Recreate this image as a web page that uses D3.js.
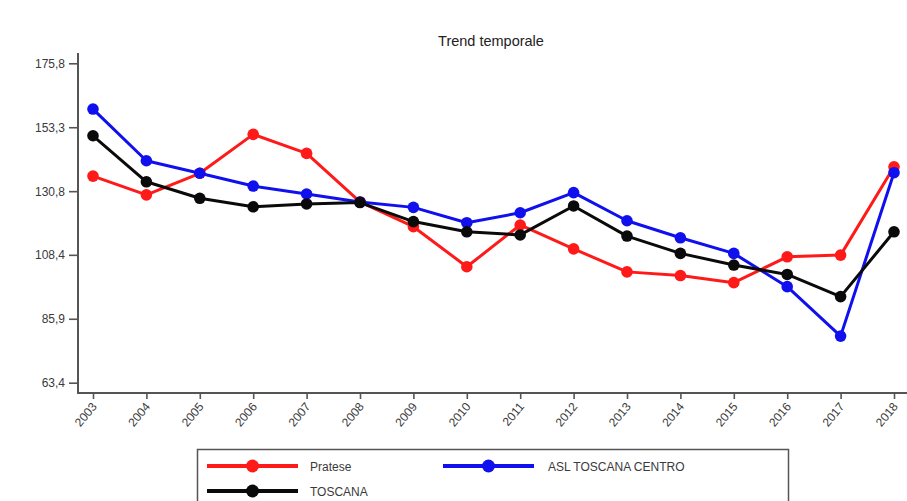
<!DOCTYPE html>
<html>
<head>
<meta charset="utf-8">
<script src="https://cdn.jsdelivr.net/npm/d3@7"></script>
<style>
  html, body { margin: 0; padding: 0; background: #fff; }
  svg { display: block; font-family: "Liberation Sans", Arial, sans-serif; }
</style>
</head>
<body>
<svg id="chart" width="907" height="501"></svg>
<script>
// ---- data ----
const years = [2003,2004,2005,2006,2007,2008,2009,2010,2011,2012,2013,2014,2015,2016,2017,2018];
const pratese = [136.1,129.5,137.1,150.8,144.1,127.0,118.3,104.2,118.9,110.5,102.4,101.1,98.6,107.7,108.3,139.4];
const aslToscanaCentro = [159.7,141.5,137.1,132.6,129.8,127.0,125.1,119.7,123.2,130.3,120.4,114.4,108.9,97.2,79.8,137.3];
const toscana = [150.3,134.1,128.3,125.3,126.3,126.8,120.1,116.5,115.4,125.6,115.0,108.9,104.8,101.5,93.7,116.5];
const yTickValues = [63.4,85.9,108.4,130.8,153.3,175.8];
const yTickLabels = ["63,4","85,9","108,4","130,8","153,3","175,8"];
const seriesNames = ["Pratese","ASL TOSCANA CENTRO","TOSCANA"];
const seriesColors = ["#ff1a1a","#1010ee","#0a0a0a"];
const title = "Trend temporale";

const series = [
  {name: seriesNames[0], color: seriesColors[0], values: pratese},
  {name: seriesNames[1], color: seriesColors[1], values: aslToscanaCentro},
  {name: seriesNames[2], color: seriesColors[2], values: toscana}
];

const svg = d3.select("#chart");
const axisColor = "#555";
const textColor = "#3a3a3a";

const plotLeft = 78, plotRight = 910, plotTop = 53, plotBottom = 393;

const x = d3.scaleLinear().domain([2003, 2018]).range([93, 894]);
const y = d3.scaleLinear().domain([63.4, 175.8]).range([382.7, 63.3]);

// title
svg.append("text")
  .attr("x", 491).attr("y", 46)
  .attr("text-anchor", "middle")
  .attr("font-size", 14.5)
  .attr("fill", "#222")
  .text(title);

// y axis
const yAxis = d3.axisLeft(y)
  .tickValues(yTickValues)
  .tickFormat((d, i) => yTickLabels[i])
  .tickSize(9)
  .tickPadding(4);
const gy = svg.append("g").attr("transform", `translate(${plotLeft},0)`).call(yAxis);
gy.select(".domain").remove();
gy.selectAll(".tick line").attr("stroke", axisColor).attr("stroke-width", 1.6);
gy.selectAll(".tick text").attr("fill", textColor).attr("font-size", 12)
  .attr("font-family", "Liberation Sans, Arial, sans-serif");
svg.append("line")
  .attr("x1", plotLeft).attr("x2", plotLeft)
  .attr("y1", plotTop).attr("y2", plotBottom + 1)
  .attr("stroke", axisColor).attr("stroke-width", 2);

// x axis
const xAxis = d3.axisBottom(x)
  .tickValues(years)
  .tickFormat(d3.format("d"))
  .tickSize(6);
const gx = svg.append("g").attr("transform", `translate(0,${plotBottom})`).call(xAxis);
gx.select(".domain").remove();
gx.selectAll(".tick line").attr("stroke", axisColor).attr("stroke-width", 1.6);
gx.selectAll(".tick text")
  .attr("fill", textColor).attr("font-size", 12)
  .attr("font-family", "Liberation Sans, Arial, sans-serif")
  .attr("text-anchor", "end")
  .attr("dy", null)
  .attr("y", 0)
  .attr("transform", "translate(4,14) rotate(-50)");
svg.append("line")
  .attr("x1", plotLeft - 1).attr("x2", plotRight)
  .attr("y1", plotBottom).attr("y2", plotBottom)
  .attr("stroke", axisColor).attr("stroke-width", 2);

// lines
const line = d3.line().x((d, i) => x(years[i])).y(d => y(d));
series.forEach(s => {
  svg.append("path")
    .datum(s.values)
    .attr("fill", "none")
    .attr("stroke", s.color)
    .attr("stroke-width", 3)
    .attr("stroke-linejoin", "round")
    .attr("d", line);
  svg.append("g").selectAll("circle")
    .data(s.values)
    .join("circle")
    .attr("cx", (d, i) => x(years[i]))
    .attr("cy", d => y(d))
    .attr("r", 5.8)
    .attr("fill", s.color);
});

// legend
const legend = svg.append("g");
legend.append("rect")
  .attr("x", 197.5).attr("y", 449.5)
  .attr("width", 591).attr("height", 70)
  .attr("fill", "#fff")
  .attr("stroke", "#555").attr("stroke-width", 1.5);
const legendPos = [
  {lx1: 207, lx2: 298, tx: 310, y: 466},
  {lx1: 443, lx2: 534, tx: 548, y: 466},
  {lx1: 207, lx2: 298, tx: 310, y: 491}
];
series.forEach((s, i) => {
  const p = legendPos[i];
  legend.append("line")
    .attr("x1", p.lx1).attr("x2", p.lx2)
    .attr("y1", p.y).attr("y2", p.y)
    .attr("stroke", s.color).attr("stroke-width", 4);
  legend.append("circle")
    .attr("cx", (p.lx1 + p.lx2) / 2).attr("cy", p.y)
    .attr("r", 6.5).attr("fill", s.color);
  legend.append("text")
    .attr("x", p.tx).attr("y", p.y + 4.5)
    .attr("font-size", 12)
    .attr("fill", textColor)
    .text(s.name);
});
</script>
</body>
</html>
